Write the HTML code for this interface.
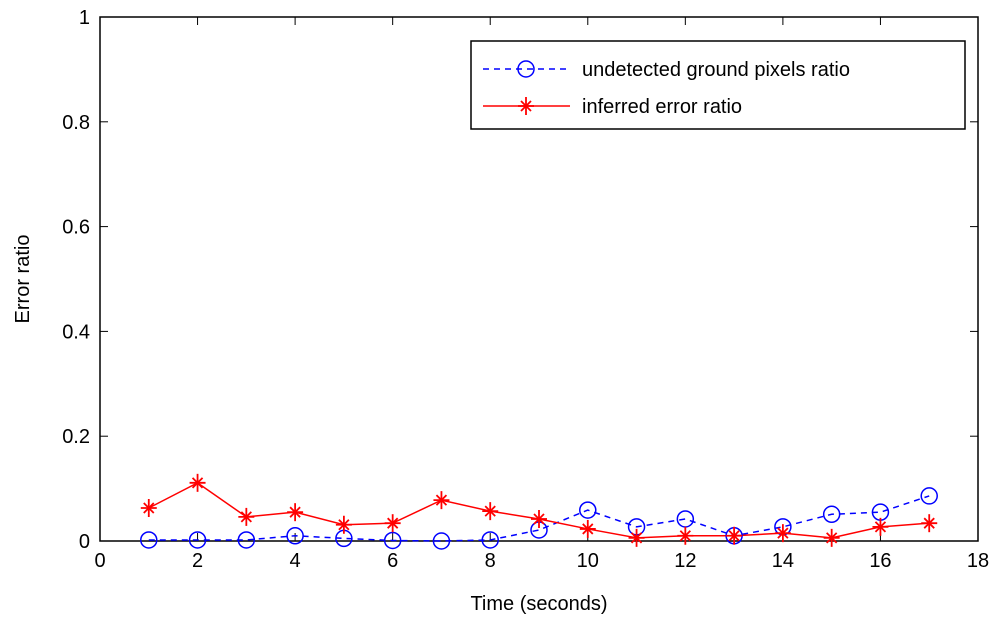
<!DOCTYPE html>
<html><head><meta charset="utf-8"><style>
body{margin:0;background:#fff;}
svg{display:block;font-family:"Liberation Sans",sans-serif;}
</style></head><body>
<svg id="chart" width="1000" height="625">
<rect x="0" y="0" width="1000" height="625" fill="#fff"/>
<g id="axes"></g>
<g id="series"></g>
<g id="legend">
<rect x="471" y="41" width="494" height="88" fill="#fff" stroke="#000" stroke-width="1.5"/>
<g>
<line x1="483" y1="69" x2="570" y2="69" stroke="#00f" stroke-width="1.5" stroke-dasharray="6,5"/>
<circle cx="526" cy="69" r="8" fill="none" stroke="#00f" stroke-width="1.5"/>
<text x="582" y="76" font-size="20">undetected ground pixels ratio</text>
</g>
<g>
<line x1="483" y1="106" x2="570" y2="106" stroke="#f00" stroke-width="1.5"/>
<g stroke="#f00" stroke-width="1.8">
<line x1="518" y1="106" x2="534" y2="106"/><line x1="526" y1="97" x2="526" y2="115"/>
<line x1="521" y1="101" x2="531" y2="111"/><line x1="521" y1="111" x2="531" y2="101"/>
</g>
<text x="582" y="113" font-size="20">inferred error ratio</text>
</g>
</g>
</svg>
<script>
const times=[1,2,3,4,5,6,7,8,9,10,11,12,13,14,15,16,17];
const undetected=[0.002,0.002,0.002,0.01,0.005,0.001,0,0.002,0.021,0.059,0.027,0.042,0.01,0.027,0.051,0.055,0.086];
const inferred=[0.063,0.111,0.046,0.055,0.031,0.034,0.078,0.057,0.042,0.023,0.006,0.01,0.01,0.015,0.006,0.027,0.034];
const xTicks=[0,2,4,6,8,10,12,14,16,18];
const yTicks=[0,0.2,0.4,0.6,0.8,1];
const yTickLabels=["0","0.2","0.4","0.6","0.8","1"];
const L=100,R=978,T=17,B=541;
const X=v=>L+(v-0)/18*(R-L);
const Y=v=>B-v*(B-T);
const NS="http://www.w3.org/2000/svg";
function mk(tag,attrs,parent){const e=document.createElementNS(NS,tag);for(const k in attrs)e.setAttribute(k,attrs[k]);parent.appendChild(e);return e;}
const ax=document.getElementById('axes');
const box=mk('rect',{x:L,y:T,width:R-L,height:B-T,fill:'none',stroke:'#000','stroke-width':1.5},ax);


xTicks.forEach(t=>{
 mk('line',{x1:X(t),y1:B,x2:X(t),y2:B-8,stroke:'#000'},ax);
 mk('line',{x1:X(t),y1:T,x2:X(t),y2:T+8,stroke:'#000'},ax);
 const tx=mk('text',{x:X(t),y:B+26,'font-size':20,'text-anchor':'middle'},ax);tx.textContent=t;
 
 
});
yTicks.forEach((t,i)=>{
 mk('line',{x1:L,y1:Y(t),x2:L+8,y2:Y(t),stroke:'#000'},ax);
 mk('line',{x1:R,y1:Y(t),x2:R-8,y2:Y(t),stroke:'#000'},ax);
 const tx=mk('text',{x:L-10,y:Y(t)+7,'font-size':20,'text-anchor':'end'},ax);tx.textContent=yTickLabels[i];
 
 
});
const xt=mk('text',{x:(L+R)/2,y:610,'font-size':20,'text-anchor':'middle'},ax);xt.textContent='Time (seconds)';


const yt=mk('text',{x:0,y:0,'font-size':20,'text-anchor':'middle',transform:'translate(29,279) rotate(-90)'},ax);yt.textContent='Error ratio';


const sg=document.getElementById('series');
const pb=mk('polyline',{points:times.map((t,i)=>X(t)+','+Y(undetected[i])).join(' '),fill:'none',stroke:'#00f','stroke-width':1.5,'stroke-dasharray':'6,5'},sg);


const pr=mk('polyline',{points:times.map((t,i)=>X(t)+','+Y(inferred[i])).join(' '),fill:'none',stroke:'#f00','stroke-width':1.5},sg);


times.forEach((t,i)=>{
 const c=mk('circle',{cx:X(t),cy:Y(undetected[i]),r:8,fill:'none',stroke:'#00f','stroke-width':1.5},sg);
 
 
 const x=X(t),y=Y(inferred[i]);
 const g=mk('g',{stroke:'#f00','stroke-width':1.8},sg);
 
 
 mk('line',{x1:x-8,y1:y,x2:x+8,y2:y},g);
 mk('line',{x1:x,y1:y-9,x2:x,y2:y+9},g);
 mk('line',{x1:x-5,y1:y-5,x2:x+5,y2:y+5},g);
 mk('line',{x1:x-5,y1:y+5,x2:x+5,y2:y-5},g);
});
</script>
</body></html>
